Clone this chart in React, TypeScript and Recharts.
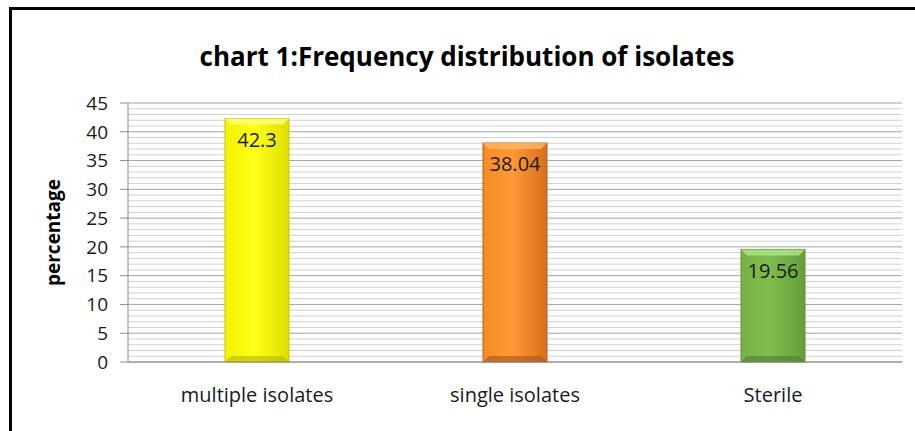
import React from 'react';
import { BarChart, Bar, XAxis, YAxis, CartesianGrid, LabelList } from 'recharts';

const categories = ['multiple isolates', 'single isolates', 'Sterile'];
const percentages = [42.3, 38.04, 19.56];
const yTicks = [0, 5, 10, 15, 20, 25, 30, 35, 40, 45];
const minorLines = Array.from({ length: 46 }, (_, i) => i).filter((v) => v % 5 !== 0);

const palettes = [
    { id: 'gYellow', left: '#f2f200', mid: '#ffff1a', right: '#dede00', top: '#ffff80', bottom: '#b5b500', stroke: '#c8c800' },
    { id: 'gOrange', left: '#f58b25', mid: '#ff9a35', right: '#d86e1c', top: '#ffb865', bottom: '#a9531a', stroke: '#b8601a' },
    { id: 'gGreen', left: '#76b244', mid: '#7fbd4e', right: '#659e3a', top: '#b2e58c', bottom: '#4f7d2e', stroke: '#5e9135' },
];

const data = categories.map((name, i) => ({ name, value: percentages[i], pal: i }));

const FONT = '"Open Sans", Lato, sans-serif';

function BevelBar(props: any) {
    const { x, y, width, height, payload } = props;
    const p = palettes[payload.pal];
    const b = Math.min(6, height / 4);
    return (
        <g>
            <rect x={x} y={y} width={width} height={height} fill={`url(#${p.id})`} stroke={p.stroke} strokeWidth={1} />
            <polygon points={`${x},${y} ${x + width},${y} ${x + width - b},${y + b} ${x + b},${y + b}`} fill={p.top} opacity={0.8} />
            <polygon points={`${x},${y + height} ${x + width},${y + height} ${x + width - b},${y + height - b} ${x + b},${y + height - b}`} fill={p.bottom} opacity={0.6} />
        </g>
    );
}

export default function App() {
    return (
        <div style={{ position: 'absolute', left: 0, top: 0, width: 915, height: 431, overflow: 'hidden', background: '#fff' }}>
            <div style={{ position: 'absolute', left: 9, top: 7, width: 1000, height: 600, border: '3px solid #000' }} />
            <div
                style={{
                    position: 'absolute',
                    left: 167,
                    width: 600,
                    top: 40,
                    textAlign: 'center',
                    fontFamily: FONT,
                    fontWeight: 'bold',
                    fontSize: 26,
                    lineHeight: '32px',
                    color: '#000',
                }}
            >
                chart 1:Frequency distribution of isolates
            </div>
            <div style={{ position: 'absolute', left: 0, top: 0 }}>
                <BarChart width={915} height={431} data={data} margin={{ top: 103, right: 13, bottom: 19, left: 38 }} barSize={64}>
                    <defs>
                        {palettes.map((p) => (
                            <linearGradient key={p.id} id={p.id} x1="0" y1="0" x2="1" y2="0">
                                <stop offset="0%" stopColor={p.left} />
                                <stop offset="45%" stopColor={p.mid} />
                                <stop offset="100%" stopColor={p.right} />
                            </linearGradient>
                        ))}
                    </defs>
                    <CartesianGrid vertical={false} horizontalValues={minorLines} stroke="#d0d0d0" />
                    <CartesianGrid vertical={false} horizontalValues={yTicks} stroke="#a4a4a4" />
                    <XAxis
                        dataKey="name"
                        height={50}
                        tickLine={false}
                        tickSize={0}
                        tickMargin={26}
                        axisLine={{ stroke: '#8c8c8c' }}
                        tick={{ fontSize: 20, fill: '#1a1a1a', fontFamily: FONT }}
                    />
                    <YAxis
                        domain={[0, 45]}
                        ticks={yTicks}
                        width={90}
                        tickSize={8}
                        tickMargin={12}
                        interval={0}
                        axisLine={{ stroke: '#8c8c8c' }}
                        tickLine={{ stroke: '#8c8c8c' }}
                        tick={{ fontSize: 19, fill: '#1a1a1a', fontFamily: FONT }}
                        label={{
                            value: 'percentage',
                            angle: -90,
                            position: 'insideLeft',
                            offset: 15,
                            style: { textAnchor: 'middle', fontSize: 19, fontWeight: 'bold', fill: '#000', fontFamily: FONT },
                        }}
                    />
                    <Bar dataKey="value" shape={<BevelBar />} isAnimationActive={false}>
                        <LabelList
                            dataKey="value"
                            position="insideTop"
                            offset={14}
                            style={{ fontSize: 20, fill: '#1a1a1a', fontFamily: FONT }}
                        />
                    </Bar>
                </BarChart>
            </div>
        </div>
    );
}
